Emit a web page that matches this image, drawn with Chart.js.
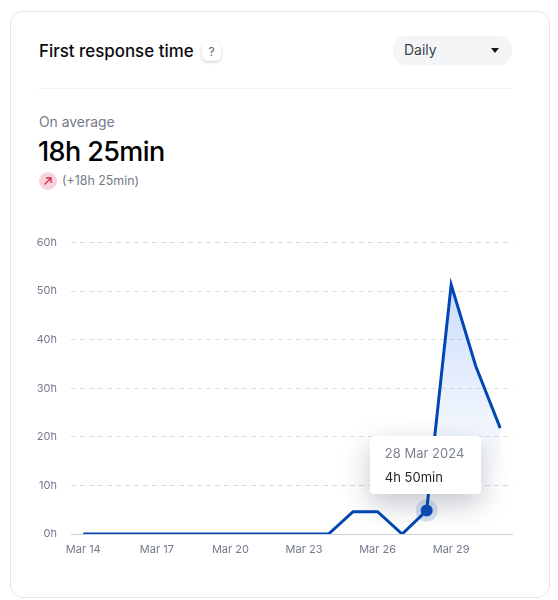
<!DOCTYPE html>
<html>
<head>
<meta charset="utf-8">
<title>First response time</title>
<script src="https://cdn.jsdelivr.net/npm/chart.js@4"></script>
<style>
  * { box-sizing: border-box; }
  html, body { margin: 0; padding: 0; background: #fff; }
  body { position: relative; width: 558px; height: 600px; overflow: hidden; font-family: Inter, sans-serif; color: #0b0b0f; }
  .card { position: absolute; left: 10px; top: 11px; width: 540px; height: 587px; border: 1px solid #e6e8ec; border-radius: 13px; background: #fff; }
  .abs { position: absolute; white-space: nowrap; }
  .title { left: 39px; top: 40px; font-size: 16.9px; line-height: 22px; font-weight: 500; }
  .help { left: 202px; top: 42px; width: 19px; height: 19px; border-radius: 5px; background: #fff; box-shadow: 0 1px 3px rgba(30,40,60,.25); font-size: 12px; line-height: 19px; text-align: center; color: #5d6475; }
  .select { left: 393px; top: 36px; width: 119px; height: 29px; border-radius: 13px; background: #f3f5f7; font-size: 14px; line-height: 28px; padding-left: 11px; color: #3c3f48; }
  .select::after { content: ""; position: absolute; left: 98px; top: 12px; border: 4.5px solid transparent; border-top: 5px solid #14151a; border-bottom: 0; }
  .divider { left: 39px; top: 88px; width: 473px; height: 1px; background: #eef0f3; }
  .avg-label { left: 39px; top: 113px; font-size: 13.9px; line-height: 18px; color: #747a8a; }
  .avg { left: 38px; top: 135px; font-size: 27px; line-height: 34px; font-weight: 500; letter-spacing: -0.6px; color: #000; }
  .badge { left: 39px; top: 172px; width: 18px; height: 18px; border-radius: 50%; background: #f8d3da; }
  .badge svg { display: block; }
  .delta { left: 62px; top: 172px; font-size: 12.4px; line-height: 18px; color: #747a8a; }
  #wrap { position: absolute; left: 10px; top: 222px; width: 504px; height: 348px; }
  #tip { position: absolute; width: 111px; height: 58px; background: #fff; border-radius: 4px; box-shadow: 0 10px 28px rgba(40,50,75,.28); padding: 8px 15px; display: none; }
  #tip .date { font-size: 13px; line-height: 18px; color: #7c8291; }
  #tip .val { font-size: 13px; line-height: 18px; margin-top: 6px; color: #24262d; }
</style>
</head>
<body>
<div class="card"></div>
<div class="abs title">First response time</div>
<div class="abs help">?</div>
<div class="abs select">Daily</div>
<div class="abs divider"></div>
<div class="abs avg-label">On average</div>
<div class="abs avg">18h 25min</div>
<div class="abs badge"><svg width="18" height="18" viewBox="0 0 18 18" fill="none" stroke="#d8234d" stroke-width="1.3"><path d="M5.5 12.5 L12 6 M7 6 H12 V11"/></svg></div>
<div class="abs delta">(+18h 25min)</div>
<div id="wrap"><canvas id="responseChart"></canvas></div>
<div id="tip" class="abs"><div class="date"></div><div class="val"></div></div>
<script>
const days = ["Mar 14", "Mar 15", "Mar 16", "Mar 17", "Mar 18", "Mar 19", "Mar 20", "Mar 21", "Mar 22",
  "Mar 23", "Mar 24", "Mar 25", "Mar 26", "Mar 27", "Mar 28", "Mar 29", "Mar 30", "Mar 31"];
const hours = [0, 0, 0, 0, 0, 0, 0, 0, 0, 0, 0, 4.6, 4.6, 0, 4.83, 51.3, 34.6, 21.8];
const selectedDay = "Mar 28";
const yearLabel = "2024";
const yTicks = [0, 10, 20, 30, 40, 50, 60];

const selectedIndex = days.indexOf(selectedDay);
const BLUE = "#0047b5";
const tickFont = { family: "Inter, sans-serif", size: 11 };

function formatHours(v) {
  const h = Math.floor(v);
  return `${h}h ${Math.round((v - h) * 60)}min`;
}

function tipHandler({ chart, tooltip }) {
  const tip = document.getElementById("tip");
  if (tooltip.opacity === 0) { tip.style.display = "none"; return; }
  const box = chart.canvas.parentNode;
  tip.querySelector(".date").textContent = tooltip.title[0];
  tip.querySelector(".val").textContent = tooltip.body[0].lines[0];
  tip.style.display = "block";
  tip.style.left = box.offsetLeft + tooltip.caretX - 58 + "px";
  tip.style.top = box.offsetTop + tooltip.caretY - 75 + "px";
}

const chart = new Chart(document.getElementById("responseChart"), {
  type: "line",
  data: {
    labels: days,
    datasets: [
      {
        label: "First response time",
        data: hours,
        borderColor: BLUE,
        borderWidth: 3,
        tension: 0,
        fill: "origin",
        clip: { left: 5, right: 5, top: 5, bottom: 0 },
        backgroundColor: (ctx) => {
          const area = ctx.chart.chartArea;
          if (!area) return "transparent";
          const g = ctx.chart.ctx.createLinearGradient(0, area.top + 40, 0, area.bottom - 60);
          g.addColorStop(0, "rgba(170, 198, 248, 0.62)");
          g.addColorStop(1, "rgba(170, 198, 248, 0)");
          return g;
        },
        pointRadius: 0,
        pointHoverRadius: 6,
        pointBackgroundColor: "#0b4dbf",
        pointHoverBackgroundColor: "#0b4dbf",
        pointHoverBorderColor: "rgba(0, 71, 181, 0.16)",
        pointHoverBorderWidth: 10,
      },
    ],
  },
  options: {
    responsive: true,
    maintainAspectRatio: false,
    animation: false,
    events: [],
    scales: {
      x: {
        offset: true,
        afterFit: (s) => { s.height = 36; },
        grid: { display: false },
        border: { display: true, color: "#ccd0da", width: 1 },
        ticks: {
          autoSkip: false,
          maxRotation: 0,
          padding: 1,
          color: "#747a8a",
          font: tickFont,
          callback: (v, i) => (i % 3 === 0 ? days[i] : ""),
        },
      },
      y: {
        min: yTicks[0],
        max: yTicks[yTicks.length - 1],
        afterFit: (s) => { s.width = 61; },
        afterBuildTicks: (s) => { s.ticks = yTicks.map((value) => ({ value })); },
        grid: {
          color: (c) => (c.tick.value === 0 ? "transparent" : "#d8dce2"),
          drawTicks: false,
        },
        border: { display: false, dash: [5, 4] },
        ticks: {
          padding: 14,
          color: "#747a8a",
          font: tickFont,
          callback: (v) => `${v}h`,
        },
      },
    },
    plugins: {
      legend: { display: false },
      tooltip: {
        enabled: false,
        external: tipHandler,
        callbacks: {
          title: (items) => {
            const [mon, d] = items[0].label.split(" ");
            return `${d} ${mon} ${yearLabel}`;
          },
          label: (item) => formatHours(item.parsed.y),
        },
      },
    },
  },
});

// keep the selected day highlighted
const active = [{ datasetIndex: 0, index: selectedIndex }];
chart.setActiveElements(active);
chart.tooltip.setActiveElements(active, { x: 0, y: 0 });
chart.update();
</script>
</body>
</html>
